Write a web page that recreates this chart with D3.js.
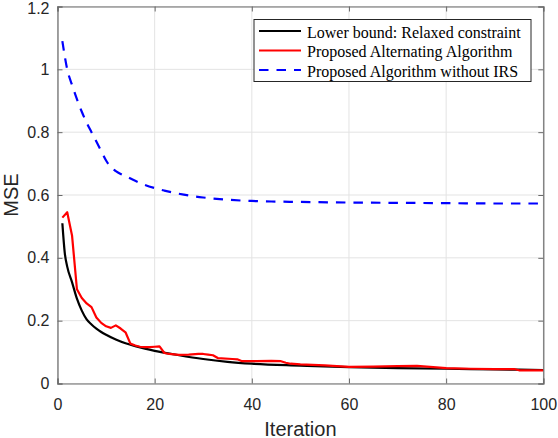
<!DOCTYPE html>
<html>
<head>
<meta charset="utf-8">
<script src="https://cdn.jsdelivr.net/npm/d3@7"></script>
<style>
  html, body { margin: 0; padding: 0; background: #fff; }
  svg { display: block; }
</style>
</head>
<body>
<svg id="chart" width="558" height="438"></svg>
<script>
// ---- data ----
const xTicks = [0, 20, 40, 60, 80, 100];
const yTicks = [0, 0.2, 0.4, 0.6, 0.8, 1, 1.2];
const yTickLabels = ["0", "0.2", "0.4", "0.6", "0.8", "1", "1.2"];

const seriesNames = [
  "Lower bound: Relaxed constraint",
  "Proposed Alternating Algorithm",
  "Proposed Algorithm without IRS"
];

const iterLB = [1,1.5,2,3,4,5,6,7,8,9,10,12,14,16,18,20,25,30,35,40,50,60,70,80,90,100];
const mseLB  = [0.51,0.415,0.372,0.322,0.27,0.232,0.204,0.188,0.175,0.164,0.155,0.14,0.128,0.119,0.111,0.104,0.09,0.078,0.069,0.063,0.057,0.052,0.049,0.047,0.045,0.043];

const iterAlt = [1,2,3,4,5,6,7,8,9,10,11,12,13,14,15,16,17,18,19,20,21,22,23,25,27,29,30,31,32,33,36,37,38,41,44,46,47,48,50,55,60,65,70,74,80,85,90,94,95,100];
const mseAlt  = [0.528,0.545,0.47,0.30,0.272,0.255,0.243,0.21,0.193,0.182,0.177,0.185,0.175,0.163,0.127,0.121,0.117,0.116,0.116,0.117,0.118,0.097,0.094,0.091,0.092,0.094,0.094,0.092,0.090,0.081,0.078,0.077,0.071,0.071,0.072,0.071,0.066,0.063,0.061,0.058,0.053,0.054,0.055,0.056,0.049,0.047,0.046,0.046,0.042,0.042];

const iterNoIRS = [1,2,3,4,5,6,7,8,9,10,11,12,13,14,16,18,20,22,24,26,28,30,35,40,45,50,60,70,80,90,100];
const mseNoIRS  = [1.09,1.0,0.95,0.905,0.865,0.83,0.80,0.77,0.74,0.71,0.688,0.676,0.667,0.66,0.645,0.632,0.622,0.614,0.607,0.601,0.596,0.592,0.585,0.581,0.579,0.578,0.576,0.575,0.574,0.573,0.573];

// ---- layout ----
const W = 558, H = 438;
const plot = { left: 57.5, right: 543.3, top: 6.5, bottom: 383.5 };
const axisColor = "#262626";
const frameColor = "#6a6a6a";
const gridColor = "#e3e3e3";

const svg = d3.select("#chart");
const x = d3.scaleLinear().domain([0, 100]).range([plot.left, plot.right]);
const y = d3.scaleLinear().domain([0, 1.2]).range([plot.bottom, plot.top]);

// grid
const g = svg.append("g");
g.selectAll("line.gx").data(xTicks).enter().append("line")
  .attr("x1", d => x(d)).attr("x2", d => x(d))
  .attr("y1", plot.top).attr("y2", plot.bottom)
  .attr("stroke", gridColor).attr("stroke-width", 1);
g.selectAll("line.gy").data(yTicks).enter().append("line")
  .attr("y1", d => y(d)).attr("y2", d => y(d))
  .attr("x1", plot.left).attr("x2", plot.right)
  .attr("stroke", gridColor).attr("stroke-width", 1);

// lines
const lineFn = (xs, ys, curve) => d3.line()
  .x((d, i) => x(xs[i])).y((d, i) => y(ys[i])).curve(curve)(ys);

svg.append("path").attr("d", lineFn(iterNoIRS, mseNoIRS, d3.curveMonotoneX))
  .attr("fill", "none").attr("stroke", "#0000ff").attr("stroke-width", 2.2)
  .attr("stroke-dasharray", "9.5,8");
svg.append("path").attr("d", lineFn(iterLB, mseLB, d3.curveMonotoneX))
  .attr("fill", "none").attr("stroke", "#000000").attr("stroke-width", 2.2);
svg.append("path").attr("d", lineFn(iterAlt, mseAlt, d3.curveLinear))
  .attr("fill", "none").attr("stroke", "#ff0000").attr("stroke-width", 2.2)
  .attr("stroke-linejoin", "round");

// axes (MATLAB-style box with inward ticks)
const xAxisB = d3.axisBottom(x).tickValues(xTicks).tickSize(-5).tickPadding(15).tickFormat(d3.format("d"));
const xAxisT = d3.axisTop(x).tickValues(xTicks).tickSize(-5).tickFormat("");
const yAxisL = d3.axisLeft(y).tickValues(yTicks).tickSize(-5).tickPadding(8).tickFormat((d, i) => yTickLabels[i]);
const yAxisR = d3.axisRight(y).tickValues(yTicks).tickSize(-5).tickFormat("");

function styleAxis(sel) {
  sel.select(".domain").attr("stroke", frameColor).attr("stroke-width", 1.2);
  sel.selectAll(".tick line").attr("stroke", frameColor).attr("stroke-width", 1);
  sel.selectAll(".tick text").attr("fill", axisColor)
    .style("font-family", "'Liberation Sans', Arial, Helvetica, sans-serif")
    .style("font-size", "16px");
}
svg.append("g").attr("transform", `translate(0,${plot.bottom})`).call(xAxisB).call(styleAxis);
svg.append("g").attr("transform", `translate(0,${plot.top})`).call(xAxisT).call(styleAxis);
const yAxisG = svg.append("g").attr("transform", `translate(${plot.left},0)`).call(yAxisL).call(styleAxis);
svg.append("g").attr("transform", `translate(${plot.right},0)`).call(yAxisR).call(styleAxis);
// keep the top label inside the canvas
yAxisG.selectAll(".tick text").filter(d => d === 1.2).attr("dy", "0.42em");

// axis labels
svg.append("text").text("Iteration")
  .attr("x", (plot.left + plot.right) / 2).attr("y", 435.5)
  .attr("text-anchor", "middle").attr("fill", axisColor)
  .style("font-family", "'Liberation Sans', Arial, Helvetica, sans-serif")
  .style("font-size", "20px");
svg.append("text").text("MSE")
  .attr("transform", `translate(17.5,${(plot.top + plot.bottom) / 2}) rotate(-90)`)
  .attr("text-anchor", "middle").attr("fill", axisColor)
  .style("font-family", "'Liberation Sans', Arial, Helvetica, sans-serif")
  .style("font-size", "20px");

// legend
const leg = { x: 254, y: 19.5, w: 277, h: 62 };
const legColors = ["#000000", "#ff0000", "#0000ff"];
const legDash = [null, null, "9.5,8"];
const legRowY = [31, 50.5, 70];
svg.append("rect").attr("x", leg.x).attr("y", leg.y).attr("width", leg.w).attr("height", leg.h)
  .attr("fill", "#fff").attr("stroke", "#262626").attr("stroke-width", 1);
const rows = svg.append("g").selectAll("g").data(seriesNames).enter().append("g");
rows.append("line")
  .attr("x1", 259).attr("x2", 301)
  .attr("y1", (d, i) => legRowY[i]).attr("y2", (d, i) => legRowY[i])
  .attr("stroke", (d, i) => legColors[i]).attr("stroke-width", 2.2)
  .attr("stroke-dasharray", (d, i) => legDash[i]);
rows.append("text").text(d => d)
  .attr("x", 307).attr("y", (d, i) => legRowY[i] + 6.5)
  .attr("fill", "#000")
  .style("font-family", "'Liberation Serif', 'Times New Roman', serif")
  .style("font-size", "16px");
</script>
</body>
</html>
